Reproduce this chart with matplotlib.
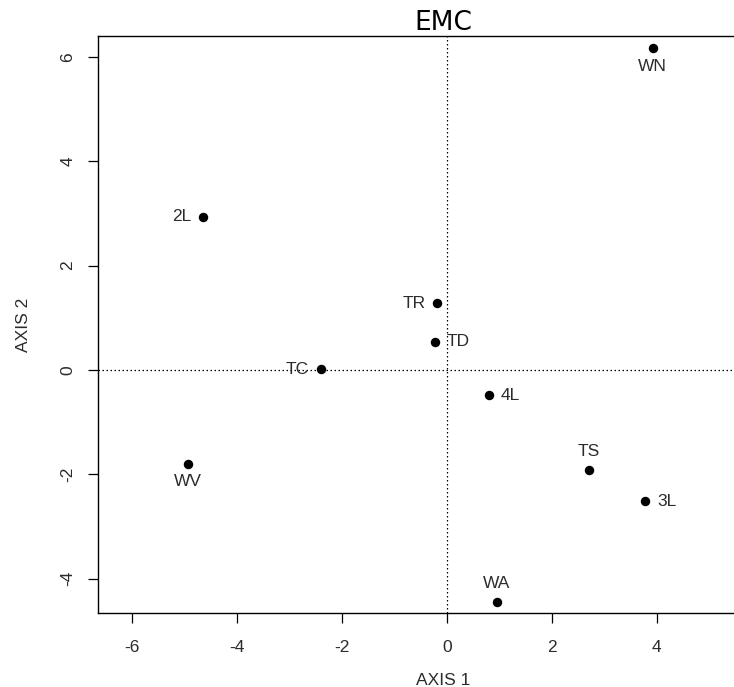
import matplotlib
matplotlib.use("Agg")
import matplotlib.pyplot as plt

# Data
labels = ["WN", "2L", "TR", "TD", "TC", "4L", "TS", "3L", "WV", "WA"]
axis1 = [3.92, -4.65, -0.18, -0.23, -2.40, 0.80, 2.71, 3.78, -4.93, 0.95]
axis2 = [6.17, 2.94, 1.28, 0.54, 0.01, -0.49, -1.92, -2.52, -1.80, -4.44]
label_pos = ["below", "left", "left", "right", "left", "right", "above", "right", "below", "above"]
xticks = [-6, -4, -2, 0, 2, 4]
yticks = [-4, -2, 0, 2, 4, 6]

FONT = "Liberation Sans"
TXT = "#2b2b2b"

fig = plt.figure(figsize=(7.34, 6.87), dpi=100)
ax = fig.add_axes([98 / 734, (687 - 613) / 687, 690 / 734, 577 / 687])
ax.set_xlim(-6.65, 6.5)
ax.set_ylim(-4.66, 6.40)

ax.axvline(0, color="black", lw=0.9, linestyle=(0, (1.2, 2.0)), zorder=1)
ax.axhline(0, color="black", lw=0.9, linestyle=(0, (1.2, 2.0)), zorder=1)

ax.plot(axis1, axis2, "o", color="black", markersize=5.8, linestyle="none", zorder=3)

offs = {"below": ((0, -13), "center", "center"),
        "above": ((0, 13), "center", "center"),
        "left": ((-8.6, 0), "right", "center"),
        "right": ((8.6, 0), "left", "center")}
for x, y, lab, p in zip(axis1, axis2, labels, label_pos):
    (dx, dy), ha, va = offs[p]
    ax.annotate(lab, (x, y), xytext=(dx, dy), textcoords="offset points",
                ha=ha, va=va, fontsize=12.5, family=FONT, color=TXT, zorder=4)

ax.set_xticks(xticks)
ax.set_yticks(yticks)
ax.set_xticklabels([str(t) for t in xticks], family=FONT, color=TXT, fontsize=12.5)
ax.set_yticklabels([str(t) for t in yticks], family=FONT, color=TXT, fontsize=12.5,
                   rotation=90, va="center")
ax.tick_params(direction="out", length=7.2, width=0.9)
ax.tick_params(axis="x", pad=12)
ax.tick_params(axis="y", pad=9)

for s in ax.spines.values():
    s.set_linewidth(1.0)
    s.set_color("black")

ax.set_xlabel("AXIS 1", family=FONT, color=TXT, fontsize=12.5, labelpad=13)
ax.set_ylabel("AXIS 2", family=FONT, color=TXT, fontsize=12.5, labelpad=21)
ax.set_title("EMC", family="DejaVu Sans", fontsize=19, pad=3)

fig.savefig("out.png", dpi=100)
